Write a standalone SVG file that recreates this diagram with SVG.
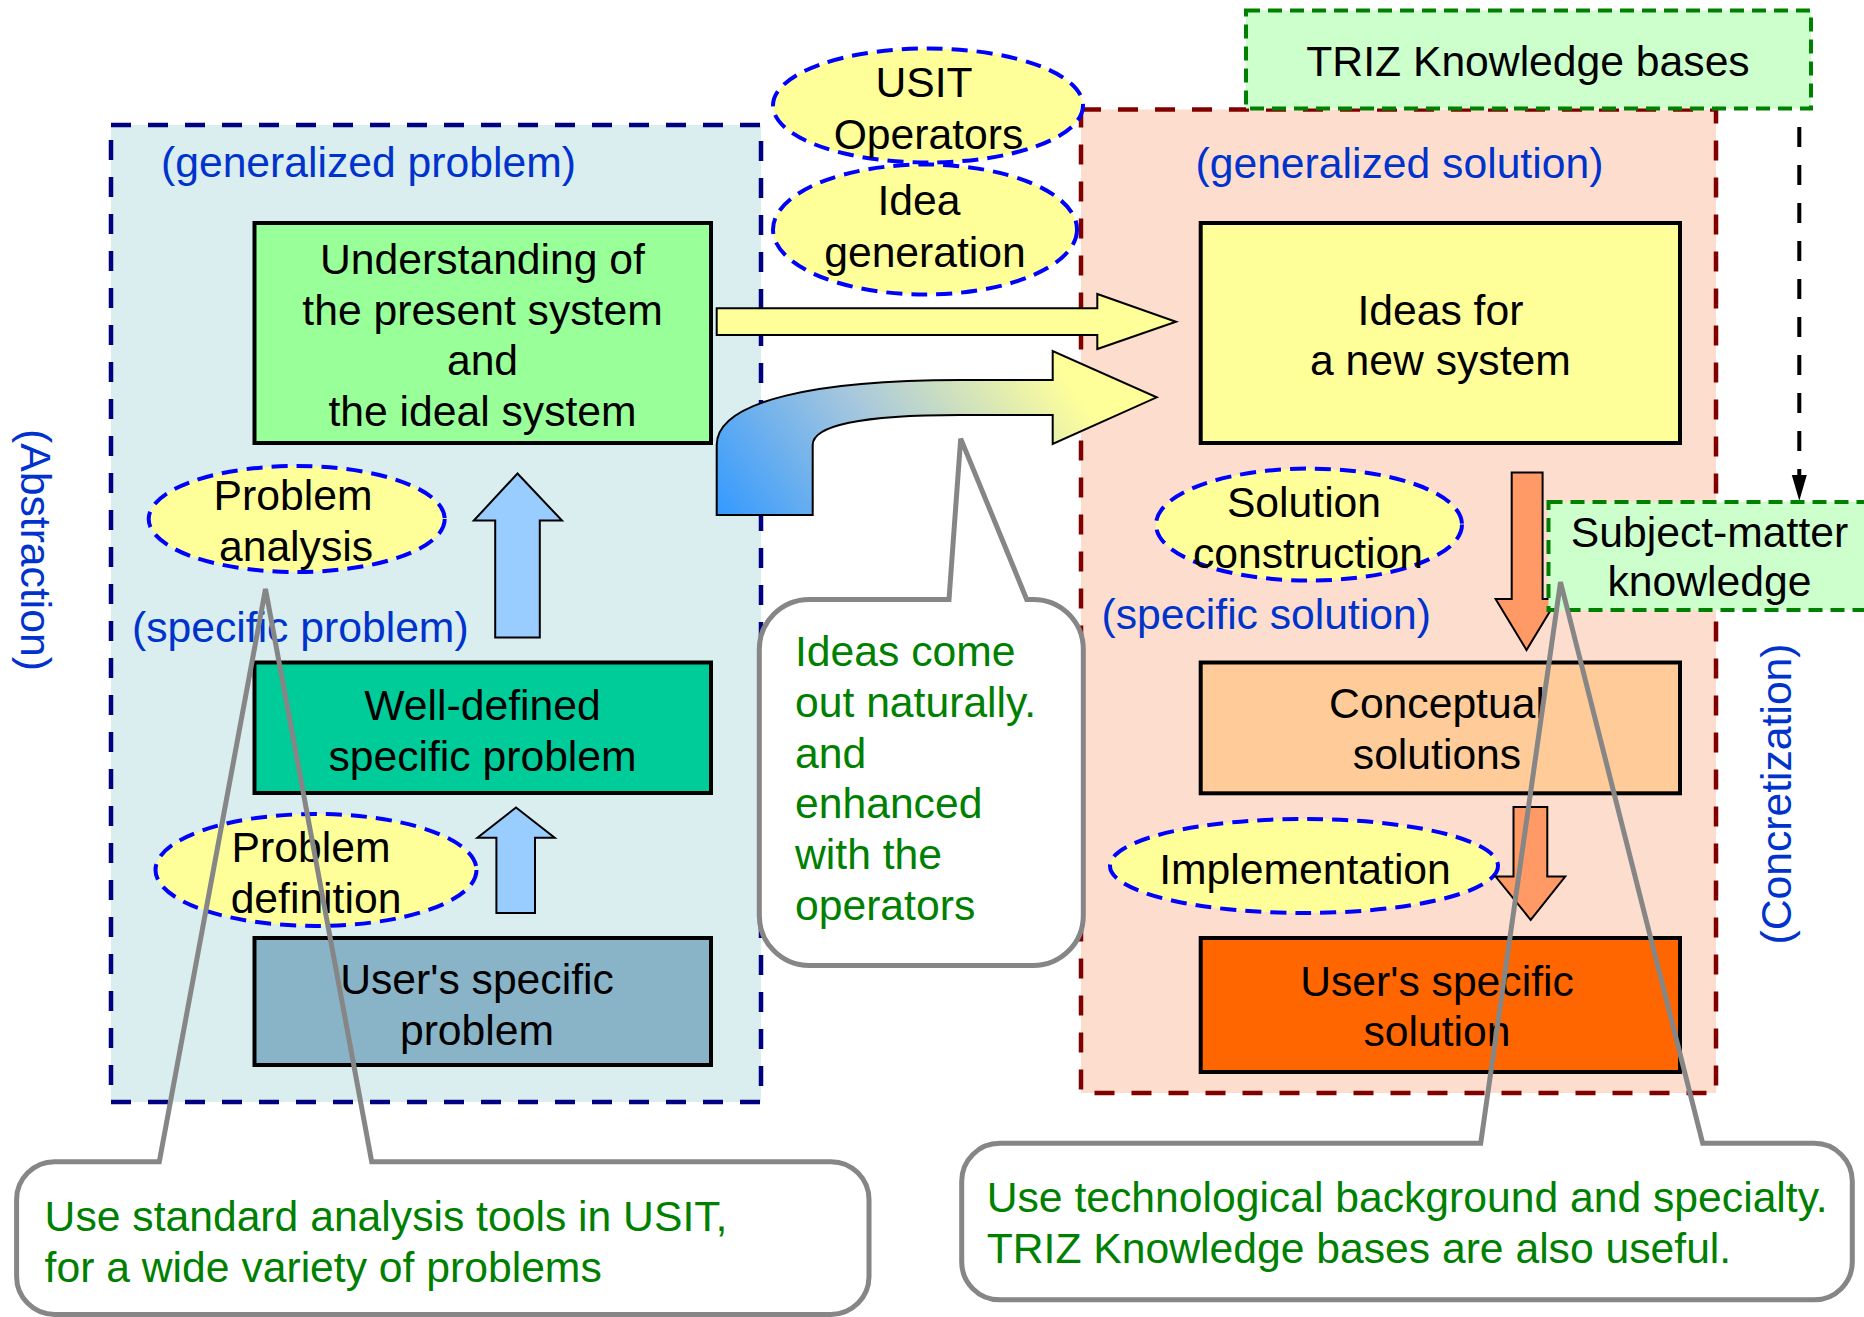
<svg xmlns="http://www.w3.org/2000/svg" width="1864" height="1317" viewBox="0 0 1864 1317">
<style>
text{font-family:"Liberation Sans",Arial,sans-serif;font-size:42.67px}
.lbl{fill:#0033CC}
.t{fill:#000;text-anchor:middle}
.g{fill:#008000}
.box{stroke:#000;stroke-width:4}
.ell{fill:#FFFF99;stroke:#0000FF;stroke-width:4;stroke-dasharray:16 9}
.kb{fill:#CCFFCC;stroke:#008000;stroke-width:4;stroke-dasharray:14 8}
.arr{stroke:#000;stroke-width:2}
.cof{fill:#fff;stroke:none}
.co{fill:none;stroke:#868686;stroke-width:5;stroke-linejoin:miter}
</style>
<defs>
<linearGradient id="grad" gradientUnits="userSpaceOnUse" x1="716" y1="515" x2="1010" y2="300">
<stop offset="0" stop-color="#3399FF"/>
<stop offset="0.5" stop-color="#A8C8DC"/>
<stop offset="1" stop-color="#FFFF99"/>
</linearGradient>
</defs>

<g id="problem-area">
<rect x="111" y="125" width="650" height="977" fill="#DAEDEF" stroke="#000080" stroke-width="4.5" stroke-dasharray="20 17"/>
<text class="lbl" x="161" y="176.5">(generalized problem)</text>
<text class="lbl" x="132" y="641.5">(specific problem)</text>
</g>
<g id="solution-area">
<rect x="1081" y="109.5" width="635" height="983.5" fill="#FDDECE" stroke="#800000" stroke-width="4.5" stroke-dasharray="20 17"/>
<text class="lbl" x="1195.5" y="177.5">(generalized solution)</text>
<text class="lbl" x="1101.5" y="629">(specific solution)</text>
</g>
<g id="abstraction">
<text class="lbl" text-anchor="middle" transform="translate(21 550) rotate(90)">(Abstraction)</text>
</g>
<g id="concretization">
<text class="lbl" text-anchor="middle" transform="translate(1791 794) rotate(-90)">(Concretization)</text>
</g>
<g id="triz-kb">
<rect class="kb" x="1246" y="10.5" width="565" height="98"/>
<text class="t" x="1528" y="75.5">TRIZ Knowledge bases</text>
</g>

<g id="understanding">
<rect class="box" x="254.5" y="223" width="456.5" height="220" fill="#99FF99"/>
<text class="t" x="482.5" y="274">Understanding of</text>
<text class="t" x="482.5" y="324.5">the present system</text>
<text class="t" x="482.5" y="375">and</text>
<text class="t" x="482.5" y="425.5">the ideal system</text>
</g>
<g id="well-defined">
<rect class="box" x="254.5" y="662.5" width="456.5" height="130.5" fill="#00CC99"/>
<text class="t" x="482.5" y="720">Well-defined</text>
<text class="t" x="482.5" y="771">specific problem</text>
</g>
<g id="user-problem">
<rect class="box" x="254.5" y="938" width="456.5" height="127" fill="#89B4C8"/>
<text class="t" x="477" y="994">User's specific</text>
<text class="t" x="477" y="1045">problem</text>
</g>
<g id="ideas">
<rect class="box" x="1200.7" y="223" width="479.3" height="220" fill="#FFFF99"/>
<text class="t" x="1440.4" y="324.5">Ideas for</text>
<text class="t" x="1440.4" y="375">a new system</text>
</g>
<g id="conceptual">
<rect class="box" x="1200.7" y="662.5" width="479.3" height="130.8" fill="#FFCC99"/>
<text class="t" x="1437" y="718">Conceptual</text>
<text class="t" x="1437" y="769">solutions</text>
</g>
<g id="user-solution">
<rect class="box" x="1200.7" y="938" width="479.3" height="134" fill="#FF6600"/>
<text class="t" x="1437" y="996">User's specific</text>
<text class="t" x="1437" y="1046">solution</text>
</g>

<g id="usit-operators">
<ellipse class="ell" cx="928" cy="105.5" rx="155" ry="57"/>
<text class="t" x="924" y="97">USIT</text>
<text class="t" x="928.5" y="148.5">Operators</text>
</g>
<g id="idea-generation">
<ellipse class="ell" cx="925" cy="229.5" rx="152" ry="65"/>
<text class="t" x="919" y="215">Idea</text>
<text class="t" x="925" y="266.5">generation</text>
</g>
<g id="problem-analysis">
<ellipse class="ell" cx="296.7" cy="519" rx="148" ry="53"/>
<text class="t" x="293" y="510">Problem</text>
<text class="t" x="296" y="561">analysis</text>
</g>
<g id="problem-definition">
<ellipse class="ell" cx="316" cy="870" rx="160.5" ry="56"/>
<text class="t" x="311" y="862">Problem</text>
<text class="t" x="316" y="912.5">definition</text>
</g>
<g id="solution-construction">
<ellipse class="ell" cx="1309" cy="524.6" rx="153" ry="56"/>
<text class="t" x="1304" y="517">Solution</text>
<text class="t" x="1308" y="567.5">construction</text>
</g>
<g id="implementation">
<ellipse class="ell" cx="1304" cy="866" rx="194" ry="47"/>
<text class="t" x="1305" y="883.5">Implementation</text>
</g>

<g id="connectors">
<polygon class="arr" fill="#FFFF99" points="716.7,308.3 1097.3,308.3 1097.3,294 1176,321.7 1097.3,349 1097.3,335 716.7,335"/>
<path class="arr" fill="url(#grad)" d="M716.7,515 V445 C716.7,400 820,380 960,380 H1052.7 V351 L1156.7,397.3 L1052.7,444 V415 H960 C860,415 812.7,426 812.7,445 V515 Z"/>
<polygon class="arr" fill="#99CCFF" points="517.5,473.5 562,520.6 539.8,520.6 539.8,637.6 495.2,637.6 495.2,520.6 473.8,520.6"/>
<polygon class="arr" fill="#99CCFF" points="516,807.5 554.7,837.8 535,837.8 535,913 496.4,913 496.4,837.8 477.4,837.8"/>
<polygon class="arr" fill="#FF9966" points="1511.7,472.6 1542.6,472.6 1542.6,599 1557.4,599 1526.5,650 1495.6,599 1511.7,599"/>
<polygon class="arr" fill="#FF9966" points="1513.5,807 1547.3,807 1547.3,876.6 1565.2,876.6 1530.7,919.8 1495.6,876.6 1513.5,876.6"/>
<line x1="1799.3" y1="110" x2="1799.3" y2="476" stroke="#000" stroke-width="4" stroke-dasharray="20 18" stroke-dashoffset="21"/>
<polygon fill="#000" points="1791.8,475 1806.8,475 1799.3,500.7"/>
</g>

<g id="subject-matter">
<rect class="kb" x="1548.5" y="502" width="325" height="108"/>
<text class="t" x="1709.5" y="546.5">Subject-matter</text>
<text class="t" x="1709.5" y="596">knowledge</text>
</g>

<g id="callout-analysis">
<rect class="cof" x="16.6" y="1161.7" width="852.4" height="152.7" rx="38"/>
<path class="co" d="M371.7,1161.7 H831 A38,38 0 0 1 869,1199.7 V1276.4 A38,38 0 0 1 831,1314.4 H54.6 A38,38 0 0 1 16.6,1276.4 V1199.7 A38,38 0 0 1 54.6,1161.7 H159.3 L265.5,589 Z"/>
<text class="g" x="44.6" y="1231">Use standard analysis tools in USIT,</text>
<text class="g" x="44.6" y="1281.5">for a wide variety of problems</text>
</g>
<g id="callout-ideas">
<rect class="cof" x="759.3" y="599.4" width="324" height="366.1" rx="50"/>
<path class="co" d="M1026.7,599.4 H1033.3 A50,50 0 0 1 1083.3,649.4 V915.5 A50,50 0 0 1 1033.3,965.5 H809.3 A50,50 0 0 1 759.3,915.5 V649.4 A50,50 0 0 1 809.3,599.4 H949 L960.7,438.6 Z"/>
<text class="g" x="795" y="666">Ideas come</text>
<text class="g" x="795" y="716.8">out naturally.</text>
<text class="g" x="795" y="767.6">and</text>
<text class="g" x="795" y="818.4">enhanced</text>
<text class="g" x="795" y="869.2">with the</text>
<text class="g" x="795" y="920">operators</text>
</g>
<g id="callout-knowledge">
<rect class="cof" x="961.7" y="1143.3" width="890.6" height="156.5" rx="38"/>
<path class="co" d="M1702.7,1143.3 H1814.3 A38,38 0 0 1 1852.3,1181.3 V1261.8 A38,38 0 0 1 1814.3,1299.8 H999.7 A38,38 0 0 1 961.7,1261.8 V1181.3 A38,38 0 0 1 999.7,1143.3 H1480.7 L1560.5,582 Z"/>
<text class="g" x="986.7" y="1212">Use technological background and specialty.</text>
<text class="g" x="986.7" y="1263">TRIZ Knowledge bases are also useful.</text>
</g>
</svg>
